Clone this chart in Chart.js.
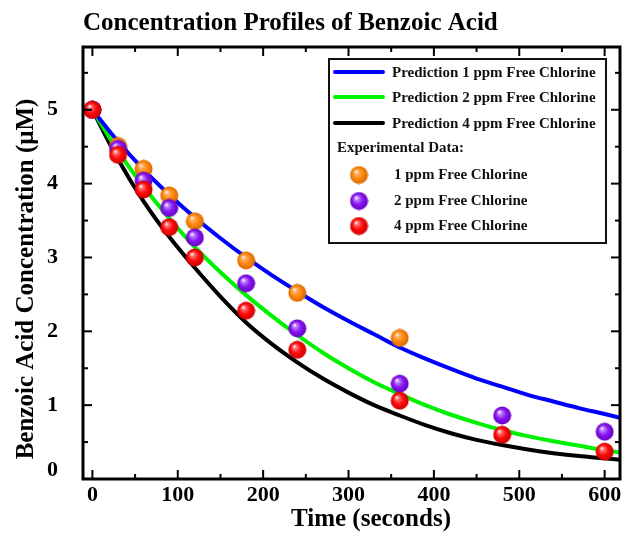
<!DOCTYPE html>
<html>
<head>
<meta charset="utf-8">
<script src="https://cdn.jsdelivr.net/npm/chart.js@4.4.1/dist/chart.umd.min.js"></script>
<style>
  html, body { margin: 0; padding: 0; background: #fff; }
</style>
</head>
<body>
<canvas id="chart" width="630" height="536"></canvas>
<script>
// model curves, sampled along the time axis (s)
const predTimes = [0, 30, 60, 90, 120, 150, 180, 210, 240, 270, 300, 330, 360, 390, 420, 450, 480, 510, 540, 570, 600, 618];
const pred1ppm = [5.00, 4.57, 4.19, 3.85, 3.54, 3.26, 3.00, 2.76, 2.54, 2.33, 2.14, 1.96, 1.78, 1.63, 1.49, 1.36, 1.25, 1.14, 1.05, 0.96, 0.88, 0.83];
const pred2ppm = [5.00, 4.44, 3.96, 3.53, 3.14, 2.80, 2.49, 2.21, 1.95, 1.71, 1.50, 1.31, 1.15, 1.00, 0.87, 0.76, 0.66, 0.58, 0.51, 0.45, 0.39, 0.36];
const pred4ppm = [5.00, 4.33, 3.76, 3.28, 2.86, 2.47, 2.12, 1.83, 1.58, 1.36, 1.17, 1.00, 0.86, 0.73, 0.62, 0.53, 0.46, 0.40, 0.35, 0.31, 0.28, 0.26];

// measured points
const expTimes = [0, 30, 60, 90, 120, 180, 240, 360, 480, 600];
const exp1ppm = [5.00, 4.51, 4.20, 3.84, 3.49, 2.96, 2.52, 1.91];
const exp2ppm = [5.00, 4.47, 4.04, 3.67, 3.27, 2.65, 2.04, 1.29, 0.86, 0.64];
const exp4ppm = [5.00, 4.39, 3.92, 3.41, 3.00, 2.28, 1.75, 1.06, 0.60, 0.37];

const xTicks = [0, 100, 200, 300, 400, 500, 600];
const xMinorTicks = [50, 150, 250, 350, 450, 550];
const yTicks = [0, 1, 2, 3, 4, 5];
const yMinorTicks = [0.5, 1.5, 2.5, 3.5, 4.5, 5.5];

const serif = '"Liberation Serif", "Times New Roman", serif';
Chart.defaults.font.family = serif;
Chart.defaults.color = '#000';

function toPoints(times, vals) {
  return vals.map((v, i) => ({ x: times[i], y: v }));
}

// shaded ball marker
function sphere(light, base, dark) {
  const r = 9;
  const c = document.createElement('canvas');
  c.width = c.height = r * 2 + 1;
  const g = c.getContext('2d');
  const cx = r + 0.5, cy = r + 0.5;
  const grad = g.createRadialGradient(cx - 3, cy - 3.5, 0.3, cx, cy, r);
  grad.addColorStop(0, '#ffffff');
  grad.addColorStop(0.2, light);
  grad.addColorStop(0.55, base);
  grad.addColorStop(1, dark);
  g.fillStyle = grad;
  g.beginPath();
  g.arc(cx, cy, r, 0, Math.PI * 2);
  g.fill();
  return c;
}

const orangeBall = sphere('#ffb066', '#ff8a10', '#d86800');
const purpleBall = sphere('#c080ff', '#8a18f2', '#6400c4');
const redBall = sphere('#ff7070', '#ff0c0c', '#cc0000');

function curve(label, vals, color) {
  return {
    label: label,
    data: toPoints(predTimes, vals),
    borderColor: color,
    backgroundColor: color,
    borderWidth: 4,
    pointRadius: 0,
    cubicInterpolationMode: 'monotone',
    fill: false,
    order: 10
  };
}

function measured(label, vals, ball, order) {
  return {
    label: label,
    data: toPoints(expTimes, vals),
    showLine: false,
    pointStyle: ball,
    pointRadius: 9,
    order: order
  };
}

const decorations = {
  id: 'decorations',
  afterDatasetsDraw(chart) {
    const ctx = chart.ctx;
    const xs = chart.scales.x, ys = chart.scales.y;
    const { left, right, top, bottom } = chart.chartArea;
    ctx.save();
    ctx.strokeStyle = '#000';
    ctx.lineCap = 'butt';

    // inward tick marks on all four sides
    ctx.lineWidth = 2;
    const seg = (x1, y1, x2, y2) => { ctx.beginPath(); ctx.moveTo(x1, y1); ctx.lineTo(x2, y2); ctx.stroke(); };
    xTicks.forEach(v => { const p = xs.getPixelForValue(v); seg(p, bottom, p, bottom - 9); seg(p, top, p, top + 9); });
    xMinorTicks.forEach(v => { const p = xs.getPixelForValue(v); seg(p, bottom, p, bottom - 5); seg(p, top, p, top + 5); });
    yTicks.forEach(v => { const p = ys.getPixelForValue(v); seg(left, p, left + 9, p); seg(right, p, right - 9, p); });
    yMinorTicks.forEach(v => { const p = ys.getPixelForValue(v); seg(left, p, left + 5, p); seg(right, p, right - 5, p); });

    // frame
    ctx.lineWidth = 3;
    ctx.strokeRect(left, top, right - left, bottom - top);

    // chart title
    ctx.fillStyle = '#000';
    ctx.font = 'bold 25px ' + serif;
    ctx.textAlign = 'left';
    ctx.textBaseline = 'alphabetic';
    ctx.fillText('Concentration Profiles of Benzoic Acid', left, 30);

    // axis titles
    ctx.textAlign = 'center';
    ctx.textBaseline = 'middle';
    ctx.fillText('Time (seconds)', 371, 520);
    ctx.save();
    ctx.translate(27, 279);
    ctx.rotate(-Math.PI / 2);
    ctx.fillText('Benzoic Acid Concentration (\u03bcM)', 0, 0);
    ctx.restore();

    // legend box
    const bx = 329, by = 59, bw = 277, bh = 184;
    ctx.fillStyle = '#fff';
    ctx.fillRect(bx, by, bw, bh);
    ctx.lineWidth = 2;
    ctx.strokeStyle = '#111';
    ctx.strokeRect(bx, by, bw, bh);

    ctx.font = 'bold 15px ' + serif;
    ctx.textAlign = 'left';
    ctx.fillStyle = '#111';
    const ds = chart.data.datasets;
    const lineRows = [72, 97, 123];
    ds.slice(0, 3).forEach((d, i) => {
      ctx.strokeStyle = d.borderColor;
      ctx.lineWidth = 4;
      ctx.lineCap = 'round';
      seg(335, lineRows[i], 383, lineRows[i]);
      ctx.fillText(d.label, 392, lineRows[i] + 1);
    });
    ctx.fillText('Experimental Data:', 337, 148);
    const ballRows = [175, 201, 226];
    ds.slice(3).forEach((d, i) => {
      const img = d.pointStyle;
      ctx.drawImage(img, 359 - img.width / 2, ballRows[i] - img.height / 2);
      ctx.fillText(d.label, 394, ballRows[i]);
    });
    ctx.restore();
  }
};

new Chart(document.getElementById('chart'), {
  type: 'line',
  data: {
    datasets: [
      curve('Prediction 1 ppm Free Chlorine', pred1ppm, '#0000ff'),
      curve('Prediction 2 ppm Free Chlorine', pred2ppm, '#00f000'),
      curve('Prediction 4 ppm Free Chlorine', pred4ppm, '#000000'),
      measured('1 ppm Free Chlorine', exp1ppm, orangeBall, 3),
      measured('2 ppm Free Chlorine', exp2ppm, purpleBall, 2),
      measured('4 ppm Free Chlorine', exp4ppm, redBall, 1)
    ]
  },
  options: {
    responsive: false,
    devicePixelRatio: 1,
    animation: false,
    layout: { padding: { top: 47, right: 10, left: 0, bottom: 0 } },
    plugins: {
      legend: { display: false },
      title: { display: false },
      tooltip: { enabled: false }
    },
    scales: {
      x: {
        type: 'linear',
        min: -11,
        max: 618,
        grid: { display: false },
        border: { display: false },
        afterBuildTicks: s => { s.ticks = xTicks.map(v => ({ value: v })); },
        afterFit: s => { s.height = 57; },
        ticks: {
          font: { size: 22, weight: 'bold', lineHeight: 0.8 },
          padding: 0,
          maxRotation: 0,
          autoSkip: false
        }
      },
      y: {
        type: 'linear',
        min: 0,
        max: 5.85,
        grid: { display: false },
        border: { display: false },
        afterBuildTicks: s => { s.ticks = yTicks.map(v => ({ value: v })); },
        afterFit: s => { s.width = 83; },
        ticks: {
          font: { size: 22, weight: 'bold', lineHeight: 0.8 },
          padding: 17,
          // lift the zero label clear of the time axis
          callback: v => (v === 0 ? ['0', ''] : String(v))
        }
      }
    }
  },
  plugins: [decorations]
});
</script>
</body>
</html>
